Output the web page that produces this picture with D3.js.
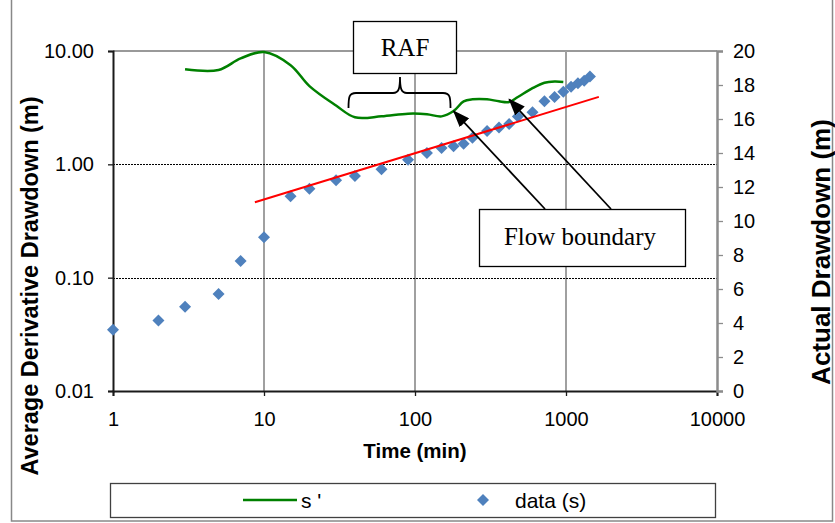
<!DOCTYPE html>
<html>
<head>
<meta charset="utf-8">
<script src="https://cdn.jsdelivr.net/npm/d3@7"></script>
<style>
  body { margin: 0; background: #fff; }
  svg { display: block; }
  text { font-family: "Liberation Sans", Arial, sans-serif; }
</style>
</head>
<body>
<svg width="835" height="523"></svg>
<script>
// pumping test: time (min) vs actual drawdown (m)
const times = [1, 2, 3, 5, 7, 10, 15, 20, 30, 40, 60, 90, 120, 150, 180, 210, 240, 300, 360, 420, 480, 600, 720, 840, 960, 1080, 1200, 1320, 1440];
const drawdown = [3.6, 4.15, 4.95, 5.7, 7.65, 9.05, 11.45, 11.9, 12.4, 12.65, 13.05, 13.6, 14.0, 14.3, 14.4, 14.55, 14.9, 15.3, 15.5, 15.7, 16.15, 16.4, 17.05, 17.3, 17.6, 17.9, 18.1, 18.25, 18.5];

// average derivative s'
const derivTimes = [3, 5, 7, 10, 15, 20, 30, 40, 60, 90, 120, 150, 180, 210, 240, 300, 360, 420, 480, 600, 720, 840, 960];
const derivative = [6.9, 6.8, 8.6, 9.8, 7.5, 4.9, 3.3, 2.6, 2.65, 2.8, 2.77, 2.65, 2.95, 3.6, 3.75, 3.75, 3.6, 3.55, 3.93, 4.7, 5.25, 5.38, 5.33];

// straight line fitted through the late data
const fitTimes = [8.7, 1650];
const fitDrawdown = [11.1, 17.3];

const xTicks = [1, 10, 100, 1000, 10000];
const yLeftTicks = [0.01, 0.1, 1, 10];
const yRightTicks = [0, 2, 4, 6, 8, 10, 12, 14, 16, 18, 20];

const sv = d3.select("svg");
const L = 113, R = 717, T = 51, B = 391;

const x = d3.scaleLog().domain([1, 10000]).range([L, R]);
const yl = d3.scaleLog().domain([0.01, 10]).range([B, T]);
const yr = d3.scaleLinear().domain([0, 20]).range([B, T]);

// chart border
sv.append("rect")
    .attr("x", 11.5).attr("y", -5)
    .attr("width", 821).attr("height", 526)
    .attr("fill", "none").attr("stroke", "#888").attr("stroke-width", 1.5);

// top edge of plot area
sv.append("line")
    .attr("x1", L).attr("x2", R).attr("y1", T).attr("y2", T)
    .attr("stroke", "#999").attr("stroke-width", 2);

// vertical gridlines
sv.append("g").selectAll("line")
    .data([10, 100, 1000])
    .enter().append("line")
    .attr("x1", function (d) { return x(d); })
    .attr("x2", function (d) { return x(d); })
    .attr("y1", T).attr("y2", B)
    .attr("stroke", "#a0a0a0").attr("stroke-width", 2);

// horizontal dotted gridlines
sv.append("g").selectAll("line")
    .data([0.1, 1])
    .enter().append("line")
    .attr("x1", L).attr("x2", R)
    .attr("y1", function (d) { return Math.round(yl(d)) + 0.5; })
    .attr("y2", function (d) { return Math.round(yl(d)) + 0.5; })
    .attr("stroke", "#000").attr("stroke-width", 1)
    .attr("stroke-dasharray", "2,1");

// axes
const gx = sv.append("g")
    .attr("transform", "translate(0," + B + ")")
    .call(d3.axisBottom(x).tickValues(xTicks).tickFormat(d3.format("d"))
        .tickSizeOuter(0).tickSize(5).tickPadding(16));

const gl = sv.append("g")
    .attr("transform", "translate(" + L + ",0)")
    .call(d3.axisLeft(yl).tickValues(yLeftTicks).tickFormat(d3.format(".2f"))
        .tickSizeOuter(0).tickSize(5).tickPadding(14));

const gr = sv.append("g")
    .attr("transform", "translate(" + R + ",0)")
    .call(d3.axisRight(yr).tickValues(yRightTicks)
        .tickSizeOuter(0).tickSize(6).tickPadding(10));

[gx, gl].forEach(function (g) {
    g.select(".domain").attr("stroke", "#1a1a1a").attr("stroke-width", 2);
    g.selectAll(".tick line").attr("stroke", "#1a1a1a").attr("stroke-width", 1.3);
});
gr.select(".domain").attr("stroke", "#8c8c8c").attr("stroke-width", 2.5);
gr.selectAll(".tick line").attr("stroke", "#8c8c8c").attr("stroke-width", 1.3);
sv.selectAll(".tick text")
    .attr("font-size", 20).attr("fill", "#000")
    .style("font-family", "'Liberation Sans', Arial, sans-serif");

// axis titles
sv.append("text")
    .attr("x", 415).attr("y", 458)
    .attr("text-anchor", "middle")
    .attr("font-size", 20.5).attr("font-weight", "bold")
    .text("Time (min)");

sv.append("text")
    .attr("transform", "translate(38,286) rotate(-90)")
    .attr("text-anchor", "middle")
    .attr("font-size", 23.5).attr("font-weight", "bold")
    .text("Average Derivative Drawdown (m)");

sv.append("text")
    .attr("transform", "translate(830,252) rotate(-90)")
    .attr("text-anchor", "middle")
    .attr("font-size", 26).attr("font-weight", "bold")
    .text("Actual Drawdown (m)");

// s' curve on the log axis
const deriv = derivTimes.map(function (t, i) { return [t, derivative[i]]; });
sv.append("path")
    .datum(deriv)
    .attr("d", d3.line()
        .x(function (d) { return x(d[0]); })
        .y(function (d) { return yl(d[1]); })
        .curve(d3.curveCatmullRom))
    .attr("fill", "none")
    .attr("stroke", "#008000").attr("stroke-width", 2.5);

// drawdown points
const pts = times.map(function (t, i) { return [t, drawdown[i]]; });
sv.append("g").selectAll("path")
    .data(pts)
    .enter().append("path")
    .attr("d", d3.symbol(d3.symbolSquare, 72))
    .attr("transform", function (d) {
        return "translate(" + x(d[0]) + "," + yr(d[1]) + ") rotate(45)";
    })
    .attr("fill", "#4f81bd");

// fitted line
sv.append("line")
    .attr("x1", x(fitTimes[0])).attr("y1", yr(fitDrawdown[0]))
    .attr("x2", x(fitTimes[1])).attr("y2", yr(fitDrawdown[1]))
    .attr("stroke", "#ff0000").attr("stroke-width", 2);

// annotations
sv.append("defs").append("marker")
    .attr("id", "head")
    .attr("markerUnits", "userSpaceOnUse")
    .attr("markerWidth", 17).attr("markerHeight", 13)
    .attr("refX", 16).attr("refY", 6.5)
    .attr("orient", "auto")
    .append("path")
    .attr("d", "M0,0L17,6.5L0,13Z")
    .attr("fill", "#000");

const arrows = [[545, 209, x(180), yl(2.95)], [611, 209, x(420), yl(3.75)]];
sv.append("g").selectAll("line")
    .data(arrows)
    .enter().append("line")
    .attr("x1", function (d) { return d[0]; })
    .attr("y1", function (d) { return d[1]; })
    .attr("x2", function (d) { return d[2]; })
    .attr("y2", function (d) { return d[3]; })
    .attr("stroke", "#000").attr("stroke-width", 1.8)
    .attr("marker-end", "url(#head)");

// brace under the RAF label
sv.append("path")
    .attr("d", "M348.5,108 C348.5,97 349,93 356,93 L393,93 C399,93 400,88 400,77 " +
        "C400,88 401,93 407,93 L443,93 C450,93 450.5,97 450.5,108")
    .attr("fill", "none").attr("stroke", "#000").attr("stroke-width", 1.8);

function box(x0, y0, w, h, label, tx, ty) {
    sv.append("rect")
        .attr("x", x0).attr("y", y0).attr("width", w).attr("height", h)
        .attr("fill", "#fff").attr("stroke", "#000").attr("stroke-width", 1.3);
    sv.append("text")
        .attr("x", tx).attr("y", ty)
        .attr("text-anchor", "middle")
        .attr("font-size", 25)
        .style("font-family", "'Liberation Serif', 'Times New Roman', serif")
        .text(label);
}
box(353.5, 21.5, 103, 52, "RAF", 405, 56);
box(479.5, 209.5, 206, 57, "Flow boundary", 580, 245);

// legend
sv.append("rect")
    .attr("x", 110.5).attr("y", 483.5).attr("width", 605).attr("height", 34)
    .attr("fill", "#fff").attr("stroke", "#404040").attr("stroke-width", 1.3);
sv.append("line")
    .attr("x1", 243).attr("x2", 297).attr("y1", 500).attr("y2", 500)
    .attr("stroke", "#008000").attr("stroke-width", 2.5);
sv.append("text")
    .attr("x", 301).attr("y", 507.5)
    .attr("font-size", 21)
    .text("s '");
sv.append("path")
    .attr("d", d3.symbol(d3.symbolSquare, 72))
    .attr("transform", "translate(483,500) rotate(45)")
    .attr("fill", "#4f81bd");
sv.append("text")
    .attr("x", 515).attr("y", 507.5)
    .attr("font-size", 21)
    .text("data (s)");
</script>
</body>
</html>
